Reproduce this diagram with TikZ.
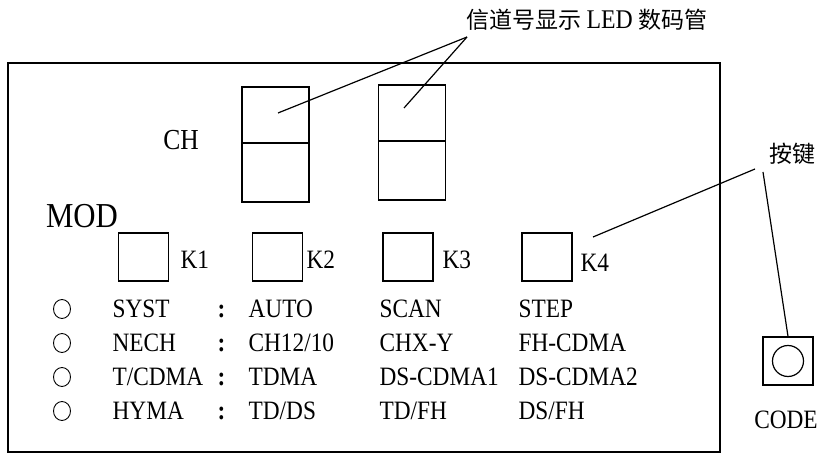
\documentclass[tikz,border=0pt]{standalone}
\usepackage{fontspec}
\setmainfont{Liberation Serif}[FakeStretch=0.88]
\newfontfamily\cjk{Noto Sans CJK SC}
\usetikzlibrary{positioning,shapes.geometric}

\begin{document}
\begin{tikzpicture}[x=1pt,y=-1pt,line width=1.2pt,
	lbl/.style={inner sep=0pt,anchor=west,text height=17.5pt,text depth=0pt,font=\fontsize{26.5}{26.5}\selectfont},
	key/.style={draw,minimum width=50pt,minimum height=48pt,inner sep=0pt},
	segup/.style={draw,outer sep=0pt,minimum width=67pt,minimum height=56pt,inner sep=0pt},
	segdown/.style={draw,outer sep=0pt,minimum width=67pt,minimum height=59pt,inner sep=0pt},
	lamp/.style={draw,ellipse,line width=0.9pt,minimum width=17pt,minimum height=19pt,inner sep=0pt}]
	\useasboundingbox (0,0) rectangle (822,454);
	% panel
	\draw (8,63) rectangle (720,452);

	% LED digits
	\node[segup] (dig1up) at (275.5,115) {};
	\node[segdown,below=0pt of dig1up] (dig1down) {};
	\node[segup] (dig2up) at (412,113) {};
	\node[segdown,below=0pt of dig2up] (dig2down) {};
	\node[font=\fontsize{29}{29}\selectfont] (ch) at (181,140) {CH};
	\node[font=\fontsize{23}{23}\selectfont] (led) at (587,20) {\cjk 信道号显示 \rmfamily\fontsize{27}{27}\selectfont LED \cjk\fontsize{23}{23}\selectfont 数码管};
	\coordinate (ledtip) at (467,37);
	\coordinate (dig1pt) at (278,113);
	\coordinate (dig2pt) at (404,108);
	\draw (ledtip) -- (dig1pt);
	\draw (ledtip) -- (dig2pt);

	% mode keys
	\node[font=\fontsize{35}{35}\selectfont] (mod) at (82,216) {MOD};
	\node[key] (k1) at (143.5,257) {};
	\node[key] (k2) at (277.5,257) {};
	\node[key] (k3) at (408,257) {};
	\node[key] (k4) at (547,257) {};
	\node[lbl] (k1txt) at (180,260) {K1};
	\node[lbl] (k2txt) at (306,260) {K2};
	\node[lbl] (k3txt) at (442,260) {K3};
	\node[lbl] (k4txt) at (580,263) {K4};

	% key label and code button
	\node[font=\fontsize{23}{23}\selectfont] (keys) at (792,154) {\cjk 按键};
	\node[key] (codebtn) at (788,361) {};
	\node[draw,circle,minimum size=31pt,inner sep=0pt] (codelamp) at (codebtn) {};
	\node[font=\fontsize{26.5}{26.5}\selectfont] (code) at (786,420) {CODE};
	\coordinate (keysa) at (755,169);
	\coordinate (keysb) at (763,172);
	\coordinate (k4pt) at (593,237);
	\draw (keysa) -- (k4pt);
	\draw (keysb) -- (codebtn.north);

	% mode table
	\node[lamp] (lamp1) at (62,309) {};
	\node[lamp] (lamp2) at (62,343) {};
	\node[lamp] (lamp3) at (62,377) {};
	\node[lamp] (lamp4) at (62,411) {};
	\node[lbl] (syst) at (112,309) {SYST};
	\node[lbl] (nech) at (112,343) {NECH};
	\node[lbl] (tcdma) at (112,377) {T/CDMA};
	\node[lbl] (hyma) at (112,411) {HYMA};
	\node[lbl] (colon1) at (217,309) {\textbf{:}};
	\node[lbl] (colon2) at (217,343) {\textbf{:}};
	\node[lbl] (colon3) at (217,377) {\textbf{:}};
	\node[lbl] (colon4) at (217,411) {\textbf{:}};
	\node[lbl] (auto) at (248,309) {AUTO};
	\node[lbl] (scan) at (379,309) {SCAN};
	\node[lbl] (step) at (518,309) {STEP};
	\node[lbl] (ch1210) at (248,343) {CH12/10};
	\node[lbl] (chxy) at (379,343) {CHX-Y};
	\node[lbl] (fhcdma) at (518,343) {FH-CDMA};
	\node[lbl] (tdma) at (248,377) {TDMA};
	\node[lbl] (dscdmaa) at (379,377) {DS-CDMA1};
	\node[lbl] (dscdmab) at (518,377) {DS-CDMA2};
	\node[lbl] (tdds) at (248,411) {TD/DS};
	\node[lbl] (tdfh) at (379,411) {TD/FH};
	\node[lbl] (dsfh) at (518,411) {DS/FH};
\end{tikzpicture}
\end{document}
